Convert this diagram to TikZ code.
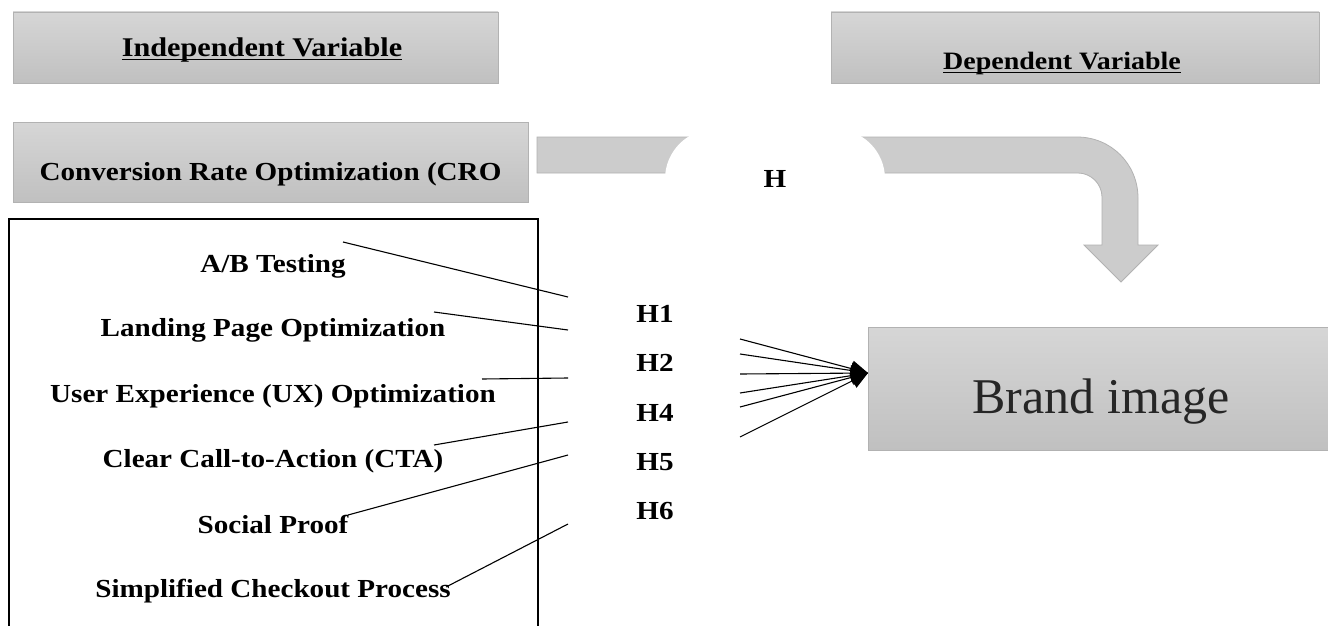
\documentclass[tikz,border=0pt]{standalone}
\usepackage{fontspec}
\setmainfont{Liberation Serif}[FakeStretch=1.12]
\newfontfamily\brandfont{Liberation Serif}
\usetikzlibrary{arrows.meta}
\newcommand{\myuline}[1]{\setbox0\hbox{#1}\rlap{\rule[-3.5pt]{\wd0}{1.3pt}}\box0}
\definecolor{boxtop}{RGB}{214,214,214}
\definecolor{boxbot}{RGB}{192,192,192}
\definecolor{boxedge}{RGB}{178,178,178}
\definecolor{arrowfill}{RGB}{204,204,204}
\begin{document}
\begin{tikzpicture}[x=1pt,y=-1pt,
  graybox/.style={draw=boxedge, top color=boxtop, bottom color=boxbot, line width=0.8pt, inner sep=0pt, text depth=0pt},
  lbl/.style={font=\bfseries\fontsize{26}{30}\selectfont, inner sep=0pt},
  item/.style={lbl, anchor=base},
  conn/.style={line width=1.1pt},
  fan/.style={line width=1.1pt, -{Triangle[length=17pt,width=16pt]}}]
\clip (0,0) rectangle (1328,626);
\fill[white] (0,0) rectangle (1328,626);
% header boxes
\node[graybox, font=\bfseries\fontsize{27}{31}\selectfont, text height=19pt, minimum width=485pt, minimum height=71pt] (iv) at (255.5,47.5) {\hspace*{13pt}\myuline{Independent Variable}};
\node[graybox, font=\bfseries\fontsize{25}{29}\selectfont, text height=45pt, minimum width=488pt, minimum height=71pt] (dv) at (1075,47.5) {\myuline{Dependent Variable}\hspace*{26pt}};
\node[graybox, lbl, text height=36pt, minimum width=515pt, minimum height=80pt] (cro) at (270.5,162) {Conversion Rate Optimization (CRO};
% bent arrow
\draw[draw=boxedge, fill=arrowfill, line width=0.8pt]
  (537,137) -- (1077,137) .. controls (1111,137) and (1138,164) .. (1138,198)
  -- (1138,245) -- (1158,245) -- (1121,282) -- (1084,245) -- (1102,245)
  -- (1102,197) .. controls (1102,184) and (1091,173) .. (1078,173)
  -- (537,173) -- cycle;
\node[lbl, fill=white, rounded corners=50pt, minimum width=220pt, minimum height=100pt] (h) at (775,179) {H};
% big box
\draw[line width=2.5pt] (9,219) rectangle (538,660);
% items
\node[item] (ab)  at (273,272) {A/B Testing};
\node[item] (lp)  at (273,336) {Landing Page Optimization};
\node[item] (ux)  at (273,402) {User Experience (UX) Optimization};
\node[item] (cta) at (273,467) {Clear Call-to-Action (CTA)};
\node[item] (sp)  at (273,533) {Social Proof};
\node[item] (sc)  at (273,597) {Simplified Checkout Process};
% hypothesis labels
\node[lbl] (h1) at (655,314) {H1};
\node[lbl] (h2) at (655,363) {H2};
\node[lbl] (h4) at (655,413) {H4};
\node[lbl] (h5) at (655,462) {H5};
\node[lbl] (h6) at (655,511) {H6};
% connectors from items
\coordinate (s1) at (343,242); \coordinate (e1) at (568,297);
\coordinate (s2) at (434,312); \coordinate (e2) at (568,330);
\coordinate (s3) at (482,379); \coordinate (e3) at (568,378);
\coordinate (s4) at (434,445); \coordinate (e4) at (568,422);
\coordinate (s5) at (348,515); \coordinate (e5) at (568,455);
\coordinate (s6) at (446,587); \coordinate (e6) at (568,524);
\draw[conn] (s1) -- (e1);
\draw[conn] (s2) -- (e2);
\draw[conn] (s3) -- (e3);
\draw[conn] (s4) -- (e4);
\draw[conn] (s5) -- (e5);
\draw[conn] (s6) -- (e6);
% brand image
\node[graybox, font=\brandfont\fontsize{50}{56}\selectfont, text=black!85, text height=49pt, minimum width=466pt, minimum height=123pt] (brand) at (1101,388.5) {Brand image};
% fan of arrows
\coordinate (tip) at (868,373);
\coordinate (f1) at (740,339);
\coordinate (f2) at (740,354);
\coordinate (f3) at (740,374);
\coordinate (f4) at (740,393);
\coordinate (f5) at (740,407);
\coordinate (f6) at (740,437);
\foreach \f in {f1,f2,f3,f4,f5,f6} \draw[fan] (\f) -- (tip);
\end{tikzpicture}
\end{document}
